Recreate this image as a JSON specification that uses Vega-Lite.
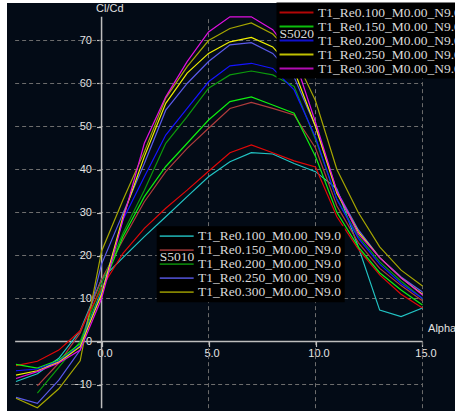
{
  "$schema": "https://vega.github.io/schema/vega-lite/v6.json",
  "width": 448,
  "height": 408,
  "autosize": {"type": "none"},
  "padding": {"left": 7, "top": 3, "right": 0, "bottom": 3},
  "background": "#ffffff",
  "config": {
    "view": {"fill": "#030b16", "stroke": null},
    "axis": {"labelFont": "Liberation Sans", "labelFontSize": 11, "labelColor": "#e6e6e6", "tickColor": "#c0c0c0", "tickWidth": 1.2, "domain": false, "grid": false, "title": null}
  },
  "datasets": {
    "s5020": [
      {"polar":"T1_Re0.100_M0.00_N9.0","alpha":-4,"clcd":-5.6},{"polar":"T1_Re0.100_M0.00_N9.0","alpha":-3,"clcd":-4.6},{"polar":"T1_Re0.100_M0.00_N9.0","alpha":-2,"clcd":-2.0},{"polar":"T1_Re0.100_M0.00_N9.0","alpha":-1,"clcd":2.5},{"polar":"T1_Re0.100_M0.00_N9.0","alpha":0,"clcd":12.5},{"polar":"T1_Re0.100_M0.00_N9.0","alpha":1,"clcd":20.5},{"polar":"T1_Re0.100_M0.00_N9.0","alpha":2,"clcd":26.3},{"polar":"T1_Re0.100_M0.00_N9.0","alpha":3,"clcd":31.0},{"polar":"T1_Re0.100_M0.00_N9.0","alpha":4,"clcd":35.2},{"polar":"T1_Re0.100_M0.00_N9.0","alpha":5,"clcd":39.6},{"polar":"T1_Re0.100_M0.00_N9.0","alpha":6,"clcd":43.9},{"polar":"T1_Re0.100_M0.00_N9.0","alpha":7,"clcd":45.7},{"polar":"T1_Re0.100_M0.00_N9.0","alpha":8,"clcd":43.9},{"polar":"T1_Re0.100_M0.00_N9.0","alpha":9,"clcd":42.0},{"polar":"T1_Re0.100_M0.00_N9.0","alpha":10,"clcd":40.6},{"polar":"T1_Re0.100_M0.00_N9.0","alpha":11,"clcd":29.0},{"polar":"T1_Re0.100_M0.00_N9.0","alpha":12,"clcd":21.5},{"polar":"T1_Re0.100_M0.00_N9.0","alpha":13,"clcd":15.5},{"polar":"T1_Re0.100_M0.00_N9.0","alpha":14,"clcd":11.0},{"polar":"T1_Re0.100_M0.00_N9.0","alpha":15,"clcd":7.8},
      {"polar":"T1_Re0.150_M0.00_N9.0","alpha":-4,"clcd":-5.3},{"polar":"T1_Re0.150_M0.00_N9.0","alpha":-3,"clcd":-6.2},{"polar":"T1_Re0.150_M0.00_N9.0","alpha":-2,"clcd":-4.3},{"polar":"T1_Re0.150_M0.00_N9.0","alpha":-1,"clcd":-0.5},{"polar":"T1_Re0.150_M0.00_N9.0","alpha":0,"clcd":12.0},{"polar":"T1_Re0.150_M0.00_N9.0","alpha":1,"clcd":24.4},{"polar":"T1_Re0.150_M0.00_N9.0","alpha":2,"clcd":33.7},{"polar":"T1_Re0.150_M0.00_N9.0","alpha":3,"clcd":40.7},{"polar":"T1_Re0.150_M0.00_N9.0","alpha":4,"clcd":46.1},{"polar":"T1_Re0.150_M0.00_N9.0","alpha":5,"clcd":51.5},{"polar":"T1_Re0.150_M0.00_N9.0","alpha":6,"clcd":55.8},{"polar":"T1_Re0.150_M0.00_N9.0","alpha":7,"clcd":56.9},{"polar":"T1_Re0.150_M0.00_N9.0","alpha":8,"clcd":55.0},{"polar":"T1_Re0.150_M0.00_N9.0","alpha":9,"clcd":53.1},{"polar":"T1_Re0.150_M0.00_N9.0","alpha":10,"clcd":43.0},{"polar":"T1_Re0.150_M0.00_N9.0","alpha":11,"clcd":30.0},{"polar":"T1_Re0.150_M0.00_N9.0","alpha":12,"clcd":22.0},{"polar":"T1_Re0.150_M0.00_N9.0","alpha":13,"clcd":16.0},{"polar":"T1_Re0.150_M0.00_N9.0","alpha":14,"clcd":12.0},{"polar":"T1_Re0.150_M0.00_N9.0","alpha":15,"clcd":8.5},
      {"polar":"T1_Re0.200_M0.00_N9.0","alpha":-4,"clcd":-6.8},{"polar":"T1_Re0.200_M0.00_N9.0","alpha":-3,"clcd":-6.4},{"polar":"T1_Re0.200_M0.00_N9.0","alpha":-2,"clcd":-4.6},{"polar":"T1_Re0.200_M0.00_N9.0","alpha":-1,"clcd":-1.0},{"polar":"T1_Re0.200_M0.00_N9.0","alpha":0,"clcd":11.5},{"polar":"T1_Re0.200_M0.00_N9.0","alpha":1,"clcd":28.3},{"polar":"T1_Re0.200_M0.00_N9.0","alpha":2,"clcd":38.3},{"polar":"T1_Re0.200_M0.00_N9.0","alpha":3,"clcd":48.0},{"polar":"T1_Re0.200_M0.00_N9.0","alpha":4,"clcd":54.2},{"polar":"T1_Re0.200_M0.00_N9.0","alpha":5,"clcd":60.4},{"polar":"T1_Re0.200_M0.00_N9.0","alpha":6,"clcd":64.1},{"polar":"T1_Re0.200_M0.00_N9.0","alpha":7,"clcd":64.7},{"polar":"T1_Re0.200_M0.00_N9.0","alpha":8,"clcd":63.5},{"polar":"T1_Re0.200_M0.00_N9.0","alpha":9,"clcd":58.5},{"polar":"T1_Re0.200_M0.00_N9.0","alpha":10,"clcd":47.5},{"polar":"T1_Re0.200_M0.00_N9.0","alpha":11,"clcd":33.0},{"polar":"T1_Re0.200_M0.00_N9.0","alpha":12,"clcd":24.0},{"polar":"T1_Re0.200_M0.00_N9.0","alpha":13,"clcd":18.0},{"polar":"T1_Re0.200_M0.00_N9.0","alpha":14,"clcd":13.5},{"polar":"T1_Re0.200_M0.00_N9.0","alpha":15,"clcd":10.0},
      {"polar":"T1_Re0.250_M0.00_N9.0","alpha":-4,"clcd":-7.8},{"polar":"T1_Re0.250_M0.00_N9.0","alpha":-3,"clcd":-6.8},{"polar":"T1_Re0.250_M0.00_N9.0","alpha":-2,"clcd":-4.8},{"polar":"T1_Re0.250_M0.00_N9.0","alpha":-1,"clcd":-1.2},{"polar":"T1_Re0.250_M0.00_N9.0","alpha":0,"clcd":11.0},{"polar":"T1_Re0.250_M0.00_N9.0","alpha":1,"clcd":29.0},{"polar":"T1_Re0.250_M0.00_N9.0","alpha":2,"clcd":43.0},{"polar":"T1_Re0.250_M0.00_N9.0","alpha":3,"clcd":55.4},{"polar":"T1_Re0.250_M0.00_N9.0","alpha":4,"clcd":62.4},{"polar":"T1_Re0.250_M0.00_N9.0","alpha":5,"clcd":67.0},{"polar":"T1_Re0.250_M0.00_N9.0","alpha":6,"clcd":69.7},{"polar":"T1_Re0.250_M0.00_N9.0","alpha":7,"clcd":70.7},{"polar":"T1_Re0.250_M0.00_N9.0","alpha":8,"clcd":68.5},{"polar":"T1_Re0.250_M0.00_N9.0","alpha":9,"clcd":63.0},{"polar":"T1_Re0.250_M0.00_N9.0","alpha":10,"clcd":50.0},{"polar":"T1_Re0.250_M0.00_N9.0","alpha":11,"clcd":34.5},{"polar":"T1_Re0.250_M0.00_N9.0","alpha":12,"clcd":25.5},{"polar":"T1_Re0.250_M0.00_N9.0","alpha":13,"clcd":19.5},{"polar":"T1_Re0.250_M0.00_N9.0","alpha":14,"clcd":14.8},{"polar":"T1_Re0.250_M0.00_N9.0","alpha":15,"clcd":11.0},
      {"polar":"T1_Re0.300_M0.00_N9.0","alpha":-4,"clcd":-8.6},{"polar":"T1_Re0.300_M0.00_N9.0","alpha":-3,"clcd":-7.0},{"polar":"T1_Re0.300_M0.00_N9.0","alpha":-2,"clcd":-5.0},{"polar":"T1_Re0.300_M0.00_N9.0","alpha":-1,"clcd":-2.0},{"polar":"T1_Re0.300_M0.00_N9.0","alpha":0,"clcd":10.0},{"polar":"T1_Re0.300_M0.00_N9.0","alpha":1,"clcd":28.3},{"polar":"T1_Re0.300_M0.00_N9.0","alpha":2,"clcd":46.1},{"polar":"T1_Re0.300_M0.00_N9.0","alpha":3,"clcd":56.9},{"polar":"T1_Re0.300_M0.00_N9.0","alpha":4,"clcd":65.1},{"polar":"T1_Re0.300_M0.00_N9.0","alpha":5,"clcd":72.0},{"polar":"T1_Re0.300_M0.00_N9.0","alpha":6,"clcd":75.5},{"polar":"T1_Re0.300_M0.00_N9.0","alpha":7,"clcd":75.5},{"polar":"T1_Re0.300_M0.00_N9.0","alpha":8,"clcd":72.5},{"polar":"T1_Re0.300_M0.00_N9.0","alpha":9,"clcd":66.0},{"polar":"T1_Re0.300_M0.00_N9.0","alpha":10,"clcd":51.0},{"polar":"T1_Re0.300_M0.00_N9.0","alpha":11,"clcd":35.0},{"polar":"T1_Re0.300_M0.00_N9.0","alpha":12,"clcd":25.0},{"polar":"T1_Re0.300_M0.00_N9.0","alpha":13,"clcd":19.5},{"polar":"T1_Re0.300_M0.00_N9.0","alpha":14,"clcd":14.8},{"polar":"T1_Re0.300_M0.00_N9.0","alpha":15,"clcd":10.8}
    ],
    "s5010": [
      {"polar":"T1_Re0.100_M0.00_N9.0","alpha":-4,"clcd":-9.3},{"polar":"T1_Re0.100_M0.00_N9.0","alpha":-3,"clcd":-7.5},{"polar":"T1_Re0.100_M0.00_N9.0","alpha":-2,"clcd":-3.9},{"polar":"T1_Re0.100_M0.00_N9.0","alpha":-1,"clcd":2.5},{"polar":"T1_Re0.100_M0.00_N9.0","alpha":0,"clcd":14.5},{"polar":"T1_Re0.100_M0.00_N9.0","alpha":1,"clcd":19.5},{"polar":"T1_Re0.100_M0.00_N9.0","alpha":2,"clcd":24.4},{"polar":"T1_Re0.100_M0.00_N9.0","alpha":3,"clcd":29.0},{"polar":"T1_Re0.100_M0.00_N9.0","alpha":4,"clcd":33.7},{"polar":"T1_Re0.100_M0.00_N9.0","alpha":5,"clcd":38.3},{"polar":"T1_Re0.100_M0.00_N9.0","alpha":6,"clcd":41.8},{"polar":"T1_Re0.100_M0.00_N9.0","alpha":7,"clcd":43.9},{"polar":"T1_Re0.100_M0.00_N9.0","alpha":8,"clcd":43.6},{"polar":"T1_Re0.100_M0.00_N9.0","alpha":9,"clcd":41.4},{"polar":"T1_Re0.100_M0.00_N9.0","alpha":10,"clcd":39.5},{"polar":"T1_Re0.100_M0.00_N9.0","alpha":11,"clcd":35.5},{"polar":"T1_Re0.100_M0.00_N9.0","alpha":12,"clcd":22.0},{"polar":"T1_Re0.100_M0.00_N9.0","alpha":13,"clcd":7.3},{"polar":"T1_Re0.100_M0.00_N9.0","alpha":14,"clcd":5.8},{"polar":"T1_Re0.100_M0.00_N9.0","alpha":15,"clcd":7.8},
      {"polar":"T1_Re0.150_M0.00_N9.0","alpha":-3,"clcd":-10.3},{"polar":"T1_Re0.150_M0.00_N9.0","alpha":-2,"clcd":-5.0},{"polar":"T1_Re0.150_M0.00_N9.0","alpha":-1,"clcd":2.0},{"polar":"T1_Re0.150_M0.00_N9.0","alpha":0,"clcd":14.5},{"polar":"T1_Re0.150_M0.00_N9.0","alpha":1,"clcd":23.6},{"polar":"T1_Re0.150_M0.00_N9.0","alpha":2,"clcd":32.5},{"polar":"T1_Re0.150_M0.00_N9.0","alpha":3,"clcd":39.5},{"polar":"T1_Re0.150_M0.00_N9.0","alpha":4,"clcd":44.9},{"polar":"T1_Re0.150_M0.00_N9.0","alpha":5,"clcd":49.6},{"polar":"T1_Re0.150_M0.00_N9.0","alpha":6,"clcd":54.2},{"polar":"T1_Re0.150_M0.00_N9.0","alpha":7,"clcd":55.6},{"polar":"T1_Re0.150_M0.00_N9.0","alpha":8,"clcd":54.2},{"polar":"T1_Re0.150_M0.00_N9.0","alpha":9,"clcd":52.7},{"polar":"T1_Re0.150_M0.00_N9.0","alpha":10,"clcd":45.0},{"polar":"T1_Re0.150_M0.00_N9.0","alpha":11,"clcd":31.5},{"polar":"T1_Re0.150_M0.00_N9.0","alpha":12,"clcd":23.0},{"polar":"T1_Re0.150_M0.00_N9.0","alpha":13,"clcd":17.0},{"polar":"T1_Re0.150_M0.00_N9.0","alpha":14,"clcd":13.0},{"polar":"T1_Re0.150_M0.00_N9.0","alpha":15,"clcd":9.5},
      {"polar":"T1_Re0.200_M0.00_N9.0","alpha":-3,"clcd":-12.0},{"polar":"T1_Re0.200_M0.00_N9.0","alpha":-2,"clcd":-6.0},{"polar":"T1_Re0.200_M0.00_N9.0","alpha":-1,"clcd":0.0},{"polar":"T1_Re0.200_M0.00_N9.0","alpha":0,"clcd":13.5},{"polar":"T1_Re0.200_M0.00_N9.0","alpha":1,"clcd":25.2},{"polar":"T1_Re0.200_M0.00_N9.0","alpha":2,"clcd":35.2},{"polar":"T1_Re0.200_M0.00_N9.0","alpha":3,"clcd":46.1},{"polar":"T1_Re0.200_M0.00_N9.0","alpha":4,"clcd":52.3},{"polar":"T1_Re0.200_M0.00_N9.0","alpha":5,"clcd":58.9},{"polar":"T1_Re0.200_M0.00_N9.0","alpha":6,"clcd":62.0},{"polar":"T1_Re0.200_M0.00_N9.0","alpha":7,"clcd":62.9},{"polar":"T1_Re0.200_M0.00_N9.0","alpha":8,"clcd":62.0},{"polar":"T1_Re0.200_M0.00_N9.0","alpha":9,"clcd":59.3},{"polar":"T1_Re0.200_M0.00_N9.0","alpha":10,"clcd":47.0},{"polar":"T1_Re0.200_M0.00_N9.0","alpha":11,"clcd":33.0},{"polar":"T1_Re0.200_M0.00_N9.0","alpha":12,"clcd":24.5},{"polar":"T1_Re0.200_M0.00_N9.0","alpha":13,"clcd":18.5},{"polar":"T1_Re0.200_M0.00_N9.0","alpha":14,"clcd":14.0},{"polar":"T1_Re0.200_M0.00_N9.0","alpha":15,"clcd":10.0},
      {"polar":"T1_Re0.250_M0.00_N9.0","alpha":-4,"clcd":-13.0},{"polar":"T1_Re0.250_M0.00_N9.0","alpha":-3,"clcd":-14.4},{"polar":"T1_Re0.250_M0.00_N9.0","alpha":-2,"clcd":-9.0},{"polar":"T1_Re0.250_M0.00_N9.0","alpha":-1,"clcd":-2.0},{"polar":"T1_Re0.250_M0.00_N9.0","alpha":0,"clcd":18.0},{"polar":"T1_Re0.250_M0.00_N9.0","alpha":1,"clcd":29.8},{"polar":"T1_Re0.250_M0.00_N9.0","alpha":2,"clcd":41.4},{"polar":"T1_Re0.250_M0.00_N9.0","alpha":3,"clcd":53.8},{"polar":"T1_Re0.250_M0.00_N9.0","alpha":4,"clcd":60.0},{"polar":"T1_Re0.250_M0.00_N9.0","alpha":5,"clcd":65.1},{"polar":"T1_Re0.250_M0.00_N9.0","alpha":6,"clcd":69.0},{"polar":"T1_Re0.250_M0.00_N9.0","alpha":7,"clcd":69.5},{"polar":"T1_Re0.250_M0.00_N9.0","alpha":8,"clcd":67.0},{"polar":"T1_Re0.250_M0.00_N9.0","alpha":9,"clcd":61.5},{"polar":"T1_Re0.250_M0.00_N9.0","alpha":10,"clcd":50.0},{"polar":"T1_Re0.250_M0.00_N9.0","alpha":11,"clcd":35.0},{"polar":"T1_Re0.250_M0.00_N9.0","alpha":12,"clcd":26.0},{"polar":"T1_Re0.250_M0.00_N9.0","alpha":13,"clcd":19.5},{"polar":"T1_Re0.250_M0.00_N9.0","alpha":14,"clcd":15.0},{"polar":"T1_Re0.250_M0.00_N9.0","alpha":15,"clcd":11.5},
      {"polar":"T1_Re0.300_M0.00_N9.0","alpha":-4,"clcd":-13.2},{"polar":"T1_Re0.300_M0.00_N9.0","alpha":-3,"clcd":-15.4},{"polar":"T1_Re0.300_M0.00_N9.0","alpha":-2,"clcd":-11.0},{"polar":"T1_Re0.300_M0.00_N9.0","alpha":-1,"clcd":-4.5},{"polar":"T1_Re0.300_M0.00_N9.0","alpha":0,"clcd":21.0},{"polar":"T1_Re0.300_M0.00_N9.0","alpha":1,"clcd":32.9},{"polar":"T1_Re0.300_M0.00_N9.0","alpha":2,"clcd":44.1},{"polar":"T1_Re0.300_M0.00_N9.0","alpha":3,"clcd":56.6},{"polar":"T1_Re0.300_M0.00_N9.0","alpha":4,"clcd":63.9},{"polar":"T1_Re0.300_M0.00_N9.0","alpha":5,"clcd":70.0},{"polar":"T1_Re0.300_M0.00_N9.0","alpha":6,"clcd":72.8},{"polar":"T1_Re0.300_M0.00_N9.0","alpha":7,"clcd":74.1},{"polar":"T1_Re0.300_M0.00_N9.0","alpha":8,"clcd":71.5},{"polar":"T1_Re0.300_M0.00_N9.0","alpha":9,"clcd":66.5},{"polar":"T1_Re0.300_M0.00_N9.0","alpha":10,"clcd":56.0},{"polar":"T1_Re0.300_M0.00_N9.0","alpha":11,"clcd":40.0},{"polar":"T1_Re0.300_M0.00_N9.0","alpha":12,"clcd":30.0},{"polar":"T1_Re0.300_M0.00_N9.0","alpha":13,"clcd":22.0},{"polar":"T1_Re0.300_M0.00_N9.0","alpha":14,"clcd":16.6},{"polar":"T1_Re0.300_M0.00_N9.0","alpha":15,"clcd":12.9}
    ]
  },
  "layer": [
    {
      "data": {"values": [{"g": -10}, {"g": 10}, {"g": 20}, {"g": 30}, {"g": 40}, {"g": 50}, {"g": 60}, {"g": 70}]},
      "mark": {"type": "rule", "stroke": "#6e6e6e", "strokeWidth": 1, "strokeDash": [4, 3]},
      "encoding": {
        "y": {"field": "g", "type": "quantitative", "scale": {"domain": [-16.16, 78.72], "nice": false, "zero": false},
              "axis": {"orient": "left", "offset": -94.5, "values": [-10, 0, 10, 20, 30, 40, 50, 60, 70], "tickSize": 5, "labelPadding": 5, "title": null}},
        "x": {"datum": -4.04, "type": "quantitative", "scale": {"domain": [-4.42, 16.52], "nice": false, "zero": false},
              "axis": {"orient": "bottom", "offset": -69.5, "values": [0, 5, 10, 15], "format": ".1f", "tickSize": 5, "labelPadding": 1, "labelOffset": 3, "labelFlush": false, "title": null}},
        "x2": {"datum": 15}
      }
    },
    {
      "data": {"values": [{"g": 5}, {"g": 10}, {"g": 15}]},
      "mark": {"type": "rule", "stroke": "#6e6e6e", "strokeWidth": 1, "strokeDash": [4, 3]},
      "encoding": {
        "x": {"field": "g", "type": "quantitative"},
        "y": {"datum": -15.5, "type": "quantitative"},
        "y2": {"datum": 75.5}
      }
    },
    {
      "data": {"values": [{}]},
      "mark": {"type": "rule", "stroke": "#bdbdbd", "strokeWidth": 1.5},
      "encoding": {
        "x": {"datum": 0, "type": "quantitative"},
        "y": {"datum": -15.5, "type": "quantitative"},
        "y2": {"datum": 75.5}
      }
    },
    {
      "data": {"values": [{}]},
      "mark": {"type": "rule", "stroke": "#bdbdbd", "strokeWidth": 1.5},
      "encoding": {
        "y": {"datum": 0, "type": "quantitative"},
        "x": {"datum": -4.04, "type": "quantitative"},
        "x2": {"datum": 15}
      }
    },
    {
      "data": {"name": "s5010"},
      "mark": {"type": "line", "strokeWidth": 1.2, "clip": true},
      "encoding": {
        "x": {"field": "alpha", "type": "quantitative"},
        "y": {"field": "clcd", "type": "quantitative"},
        "color": {
          "field": "polar", "type": "nominal",
          "scale": {"domain": ["T1_Re0.100_M0.00_N9.0", "T1_Re0.150_M0.00_N9.0", "T1_Re0.200_M0.00_N9.0", "T1_Re0.250_M0.00_N9.0", "T1_Re0.300_M0.00_N9.0"],
                    "range": ["#22c4c4", "#b03c3c", "#0c9a0c", "#5a5aea", "#a6a600"]},
          "legend": {
            "orient": "none", "legendX": 149.7, "legendY": 223.2,
            "title": "S5010", "titleOrient": "left", "titleAnchor": "middle", "titleBaseline": "bottom",
            "titleFont": "Liberation Serif", "titleFontSize": 13.5, "titleFontWeight": "normal", "titleColor": "#d8d8d8", "titlePadding": -25,
            "symbolType": "M-3,0H3", "symbolSize": 128, "symbolStrokeWidth": 1.8, "symbolOpacity": 0.8,
            "labelFont": "Liberation Serif", "labelFontSize": 13.5, "labelColor": "#d8d8d8", "labelOffset": 14.4, "labelLimit": 400, "labelBaseline": "middle",
            "fillColor": "#000000", "padding": 3, "rowPadding": -0.9
          }
        }
      }
    },
    {
      "data": {"name": "s5020"},
      "mark": {"type": "line", "strokeWidth": 1.2, "clip": true},
      "encoding": {
        "x": {"field": "alpha", "type": "quantitative"},
        "y": {"field": "clcd", "type": "quantitative"},
        "color": {
          "field": "polar", "type": "nominal",
          "scale": {"domain": ["T1_Re0.100_M0.00_N9.0", "T1_Re0.150_M0.00_N9.0", "T1_Re0.200_M0.00_N9.0", "T1_Re0.250_M0.00_N9.0", "T1_Re0.300_M0.00_N9.0"],
                    "range": ["#e00808", "#10ee10", "#1414ff", "#f0f000", "#e010e0"]},
          "legend": {
            "orient": "none", "legendX": 269.5, "legendY": -0.5,
            "title": "S5020", "titleOrient": "left", "titleAnchor": "middle", "titleBaseline": "bottom",
            "titleFont": "Liberation Serif", "titleFontSize": 13.5, "titleFontWeight": "normal", "titleColor": "#d8d8d8", "titlePadding": -25,
            "symbolType": "M-3,0H3", "symbolSize": 128, "symbolStrokeWidth": 1.8, "symbolOpacity": 0.8,
            "labelFont": "Liberation Serif", "labelFontSize": 13.5, "labelColor": "#d8d8d8", "labelOffset": 14.4, "labelLimit": 400, "labelBaseline": "middle",
            "fillColor": "#000000", "padding": 3, "rowPadding": -0.9
          }
        }
      }
    },
    {
      "data": {"values": [{}]},
      "mark": {"type": "text", "align": "left", "baseline": "middle", "font": "Liberation Sans", "fontSize": 11, "color": "#e0e0e0"},
      "encoding": {
        "x": {"datum": -0.26, "type": "quantitative"},
        "y": {"datum": 77.3, "type": "quantitative"},
        "text": {"value": "Cl/Cd"}
      }
    },
    {
      "data": {"values": [{}]},
      "mark": {"type": "text", "align": "left", "baseline": "middle", "font": "Liberation Sans", "fontSize": 11, "color": "#e0e0e0"},
      "encoding": {
        "x": {"datum": 15.26, "type": "quantitative"},
        "y": {"datum": 2.9, "type": "quantitative"},
        "text": {"value": "Alpha"}
      }
    }
  ],
  "resolve": {"scale": {"color": "independent"}}
}
